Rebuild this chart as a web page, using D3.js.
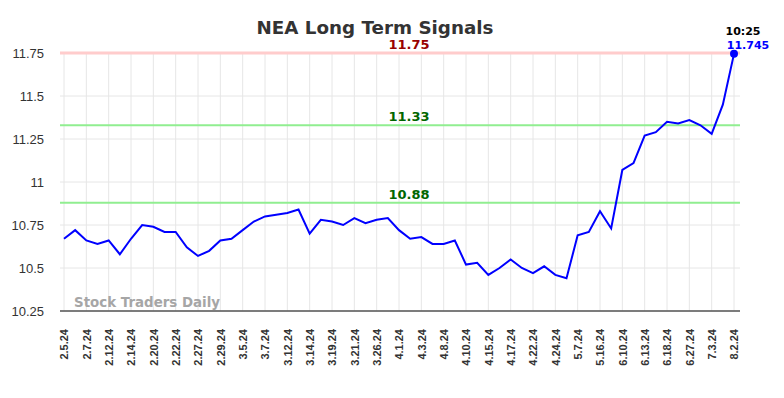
<!DOCTYPE html>
<html>
<head>
<meta charset="utf-8">
<script src="https://cdn.jsdelivr.net/npm/d3@7"></script>
<style>
	body { margin: 0; background: #fff; }
	svg { display: block; font-family: "DejaVu Sans", sans-serif; }
</style>
</head>
<body>
<svg id="chart"></svg>
<script>
// categories (every other one shown as tick label)
var dates = ["2.5.24", "2.6.24", "2.7.24", "2.9.24", "2.12.24", "2.13.24", "2.14.24", "2.16.24", "2.20.24", "2.21.24",
	"2.22.24", "2.26.24", "2.27.24", "2.28.24", "2.29.24", "3.1.24", "3.5.24", "3.6.24", "3.7.24", "3.8.24",
	"3.12.24", "3.13.24", "3.14.24", "3.18.24", "3.19.24", "3.20.24", "3.21.24", "3.22.24", "3.26.24", "3.27.24",
	"4.1.24", "4.2.24", "4.3.24", "4.5.24", "4.8.24", "4.9.24", "4.10.24", "4.12.24", "4.15.24", "4.16.24",
	"4.17.24", "4.19.24", "4.22.24", "4.23.24", "4.24.24", "4.26.24", "5.7.24", "5.9.24", "5.16.24", "5.23.24",
	"6.10.24", "6.11.24", "6.13.24", "6.14.24", "6.18.24", "6.21.24", "6.27.24", "7.1.24", "7.3.24", "7.19.24",
	"8.2.24"];
var prices = [10.67, 10.72, 10.66, 10.64, 10.66, 10.58, 10.67, 10.75, 10.74, 10.71,
	10.71, 10.62, 10.57, 10.60, 10.66, 10.67, 10.72, 10.77, 10.80, 10.81,
	10.82, 10.84, 10.70, 10.78, 10.77, 10.75, 10.79, 10.76, 10.78, 10.79,
	10.72, 10.67, 10.68, 10.64, 10.64, 10.66, 10.52, 10.53, 10.46, 10.50,
	10.55, 10.50, 10.47, 10.51, 10.46, 10.44, 10.69, 10.71, 10.83, 10.73,
	11.07, 11.11, 11.27, 11.29, 11.35, 11.34, 11.36, 11.33, 11.28, 11.45,
	11.745];
var yTicks = [10.25, 10.5, 10.75, 11, 11.25, 11.5, 11.75];
var resistance = 11.75;
var signals = [11.33, 10.88];
var lastTime = "10:25";
var lastPrice = "11.745";

var width = 784, height = 398;
var padding = { left: 60, right: 44, top: 53, bottom: 87 };

var svg = d3.select("#chart")
	.attr("width", width)
	.attr("height", height);

var x = d3.scalePoint()
	.domain(dates)
	.range([padding.left + 4, width - padding.right - 6]);

var y = d3.scaleLinear()
	.domain([10.25, 11.75])
	.range([height - padding.bottom, padding.top]);

var tickDates = dates.filter(function(d, i) { return i % 2 === 0; });

// grid
svg.append("g")
	.selectAll("line")
	.data(yTicks)
	.enter()
	.append("line")
	.attr("x1", padding.left)
	.attr("x2", width - padding.right)
	.attr("y1", function(d) { return y(d); })
	.attr("y2", function(d) { return y(d); })
	.attr("stroke", "#e6e6e6")
	.attr("stroke-width", 1);

svg.append("g")
	.selectAll("line")
	.data(tickDates)
	.enter()
	.append("line")
	.attr("x1", function(d) { return x(d); })
	.attr("x2", function(d) { return x(d); })
	.attr("y1", y(11.75))
	.attr("y2", y(10.25))
	.attr("stroke", "#e6e6e6")
	.attr("stroke-width", 1);

// y axis labels
var yAxis = d3.axisLeft(y)
	.tickValues(yTicks)
	.tickSize(0)
	.tickPadding(16)
	.tickFormat(function(d) { return String(d); });

svg.append("g")
	.attr("transform", "translate(" + padding.left + ",0)")
	.call(yAxis)
	.call(function(g) { g.select(".domain").remove(); })
	.selectAll("text")
	.attr("font-size", 13)
	.attr("fill", "#333");

// x axis
var xAxis = d3.axisBottom(x)
	.tickValues(tickDates)
	.tickSize(0)
	.tickPadding(0);

var gx = svg.append("g")
	.attr("transform", "translate(0," + y(10.25) + ")")
	.call(xAxis);
gx.select(".domain").remove();
gx.selectAll("text")
	.attr("font-size", 11)
	.attr("font-weight", "bold")
	.attr("fill", "#333")
	.attr("text-anchor", "end")
	.attr("dy", "0.35em")
	.attr("transform", "translate(0,18) rotate(-90)");

svg.append("line")
	.attr("x1", padding.left)
	.attr("x2", width - padding.right)
	.attr("y1", y(10.25))
	.attr("y2", y(10.25))
	.attr("stroke", "#555")
	.attr("stroke-width", 1.5);

// resistance line
svg.append("line")
	.attr("x1", padding.left)
	.attr("x2", width - padding.right)
	.attr("y1", y(resistance))
	.attr("y2", y(resistance))
	.attr("stroke", "#ffcccc")
	.attr("stroke-width", 3);

svg.append("text")
	.attr("x", 409)
	.attr("y", y(resistance) - 4)
	.attr("text-anchor", "middle")
	.attr("font-size", 13)
	.attr("font-weight", "bold")
	.attr("fill", "#990000")
	.text(String(resistance));

// signal lines
svg.append("g")
	.selectAll("line")
	.data(signals)
	.enter()
	.append("line")
	.attr("x1", padding.left)
	.attr("x2", width - padding.right)
	.attr("y1", function(d) { return y(d); })
	.attr("y2", function(d) { return y(d); })
	.attr("stroke", "#90ee90")
	.attr("stroke-width", 2);

svg.append("g")
	.selectAll("text")
	.data(signals)
	.enter()
	.append("text")
	.attr("x", 409)
	.attr("y", function(d) { return y(d) - 4; })
	.attr("text-anchor", "middle")
	.attr("font-size", 13)
	.attr("font-weight", "bold")
	.attr("fill", "#006600")
	.text(function(d) { return d.toFixed(2); });

// watermark
svg.append("text")
	.attr("x", 74)
	.attr("y", y(10.25) - 4)
	.attr("font-size", 13.4)
	.attr("font-weight", "bold")
	.attr("fill", "#a6a6a6")
	.text("Stock Traders Daily");

// price line
var line = d3.line()
	.x(function(d, i) { return x(dates[i]); })
	.y(function(d) { return y(d); });

svg.append("path")
	.datum(prices)
	.attr("d", line)
	.attr("fill", "none")
	.attr("stroke", "#0000ff")
	.attr("stroke-width", 2);

var lastX = x(dates[dates.length - 1]);
var lastY = y(prices[prices.length - 1]);

svg.append("circle")
	.attr("cx", lastX)
	.attr("cy", lastY)
	.attr("r", 4)
	.attr("fill", "#0000ff");

svg.append("text")
	.attr("x", lastX + 9)
	.attr("y", lastY - 19)
	.attr("text-anchor", "middle")
	.attr("font-size", 11)
	.attr("font-weight", "bold")
	.attr("fill", "#000")
	.text(lastTime);

svg.append("text")
	.attr("x", lastX + 14)
	.attr("y", lastY - 5)
	.attr("text-anchor", "middle")
	.attr("font-size", 11)
	.attr("font-weight", "bold")
	.attr("fill", "#0000ff")
	.text(lastPrice);

// title
svg.append("text")
	.attr("x", 375)
	.attr("y", 34)
	.attr("text-anchor", "middle")
	.attr("font-size", 18.3)
	.attr("font-weight", "bold")
	.attr("fill", "#333")
	.text("NEA Long Term Signals");
</script>
</body>
</html>
